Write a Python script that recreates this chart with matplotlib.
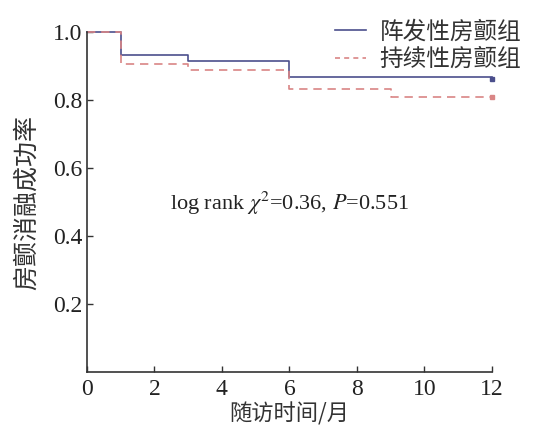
import matplotlib
matplotlib.use("Agg")
import matplotlib.pyplot as plt
from matplotlib.lines import Line2D

plt.rcParams["mathtext.fontset"] = "stix"

# Data (Kaplan-Meier step curves)
months_par = [0, 1, 3, 6, 12]
surv_par = [1.0, 0.933, 0.917, 0.869, 0.869]
months_per = [0, 1, 3, 6, 9, 12]
surv_per = [1.0, 0.907, 0.888, 0.833, 0.810, 0.810]
labels = ["阵发性房颤组", "持续性房颤组"]
xticks = [0, 2, 4, 6, 8, 10, 12]
yticks = [0.2, 0.4, 0.6, 0.8, 1.0]

cjk = ["Noto Sans CJK SC", "DejaVu Sans"]
serif = ["Liberation Serif", "DejaVu Serif"]

fig = plt.figure(figsize=(5.33, 4.26), dpi=100)
ax = fig.add_axes([0.163, 0.127, 0.760, 0.797])

blue = "#4b4f8c"
red = "#d98585"
ax.step(months_par, surv_par, where="post", color=blue, lw=1.2, clip_on=False)
ax.step(months_per, surv_per, where="post", color=red, lw=1.2, ls=(0, (5, 3.5)), clip_on=False)
ax.plot([months_par[-1]], [surv_par[-1] - 0.006], marker="s", ms=2.5, color=blue, clip_on=False)
ax.plot([months_per[-1]], [surv_per[-1]], marker="s", ms=2.5, color=red, clip_on=False)

ax.set_xlim(0, 12)
ax.set_ylim(0, 1.0)
ax.set_xticks(xticks)
ax.set_yticks(yticks)
ax.set_xticklabels([str(v) for v in xticks], family=serif, fontsize=17)
ax.set_yticklabels([f"{v:.1f}" for v in yticks], family=serif, fontsize=17)
ax.tick_params(direction="in", length=4, width=1, color="#333333", labelcolor="#222222")
ax.tick_params(axis="x", pad=5)
ax.tick_params(axis="y", pad=3)
for s in ["top", "right"]:
    ax.spines[s].set_visible(False)
for s in ["left", "bottom"]:
    ax.spines[s].set_linewidth(1.2)
    ax.spines[s].set_color("#333333")

ax.set_xlabel("随访时间/月", family=cjk, fontsize=16, color="#333333", labelpad=1.5)
ax.set_ylabel("房颤消融成功率", family=cjk, fontsize=18, color="#333333", labelpad=10)

ax.text(0.5, 0.495, r"log rank $\chi^2$=0.36, $P$=0.551", transform=ax.transAxes,
        ha="center", va="center", fontsize=16, family=serif, color="#222222")

handles = [Line2D([], [], color=blue, lw=1.2),
           Line2D([], [], color=red, lw=1.2, ls=(0, (3, 2.5)))]
leg = fig.legend(handles, labels, loc="upper right", bbox_to_anchor=(1.005, 0.985),
                 frameon=False, prop={"family": cjk, "size": 17}, handlelength=1.3,
                 handletextpad=0.6, labelspacing=0.2, borderaxespad=0.2)
for t in leg.get_texts():
    t.set_color("#333333")

fig.savefig("out.png", dpi=100)
